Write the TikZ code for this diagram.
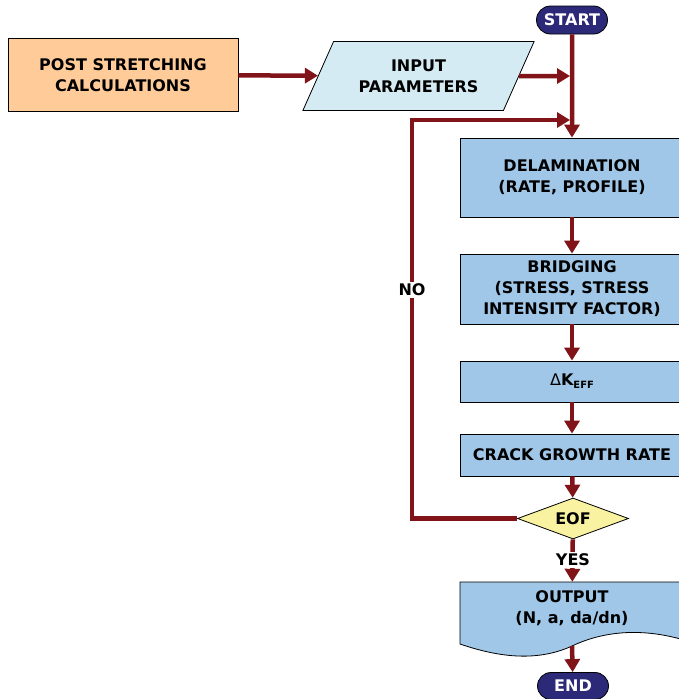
\documentclass[tikz,border=0pt]{standalone}
\usepackage{fontspec}
\setmainfont{DejaVu Sans}
\usetikzlibrary{positioning}
\usetikzlibrary{shapes.geometric}
\usetikzlibrary{shapes.misc}
\usetikzlibrary{arrows.meta}
\usetikzlibrary{backgrounds}
\definecolor{flowred}{RGB}{128,20,24}
\definecolor{boxblue}{RGB}{160,199,232}
\definecolor{inputblue}{RGB}{213,235,243}
\definecolor{postorange}{RGB}{255,204,153}
\definecolor{eofyellow}{RGB}{249,242,160}
\definecolor{pillnavy}{RGB}{44,42,120}
\tikzset{
	every node/.style = {font=\fontsize{16}{21}\selectfont\bfseries, align=center},
	box/.style = {rectangle, draw=black, line width=0.8pt, fill=boxblue, minimum width=224pt, inner sep=0pt},
	pill/.style = {rounded rectangle, draw=black, line width=0.8pt, fill=pillnavy, text=white, minimum width=71pt, inner sep=0pt},
	flow/.style = {line width=4.5pt, flowred, -{Triangle[length=13pt, width=15pt]}},
	tag/.style = {fill=white, inner sep=2pt}
}

\begin{document}
\begin{tikzpicture}[x=1pt, y=-1pt]
		\useasboundingbox (0,0) rectangle (678,699);
		% start and inputs
		\node[pill, minimum height=28pt] (start) at (572,20) {START};
		\node[rectangle, draw=black, line width=0.8pt, fill=postorange, minimum width=230pt, minimum height=73pt] (post) at (123,75) {POST STRETCHING\\CALCULATIONS};
		\node[trapezium, trapezium left angle=66, trapezium right angle=114, draw=black, line width=0.8pt, fill=inputblue, inner xsep=25pt, inner ysep=18pt] (input) at (418.5,76) {INPUT\\PARAMETERS};
		% process boxes
		\node[box, minimum height=79pt] (delam) at (572,177.5) {DELAMINATION\\(RATE, PROFILE)};
		\node[box, minimum height=70pt] (bridge) at (572,289) {BRIDGING\\(STRESS, STRESS\\INTENSITY FACTOR)};
		\node[box, minimum height=41pt] (dkeff) at (572,381.5) {{\mdseries Δ}K\raisebox{-3pt}{\fontsize{10}{10}\selectfont EFF}};
		\node[box, minimum height=42pt] (crack) at (572,455) {CRACK GROWTH RATE};
		\node[diamond, draw=black, line width=0.8pt, fill=eofyellow, aspect=2.7, minimum width=111pt, minimum height=41pt, inner sep=0pt] (eof) at (573,518.5) {EOF};
		% output sheet with wavy lower edge
		\node[minimum width=224pt, minimum height=52pt, inner sep=0pt] (output) at (572,608) {OUTPUT\\(N, a, da/dn)};
		\begin{scope}[on background layer]
			\draw[draw=black, line width=0.8pt, fill=boxblue] (460,582) -- (684,582) -- (684,640) .. controls (650,630) and (610,628) .. (572,646) .. controls (535,663) and (495,656) .. (460,644) -- cycle;
		\end{scope}
		\coordinate (outbase) at (572,646);
		\node[pill, minimum height=27pt] (end) at (573,686) {END};
		% joints on the trunk
		\coordinate (j1) at (572,76);
		\coordinate (j2) at (572,120);
		\coordinate (back) at (412,120);
		% connectors
		\draw[flow] (start) -- (delam);
		\draw[flow] (post) -- (input);
		\draw[flow, shorten >=2pt] (input) -- (j1);
		\draw[flow, shorten >=2pt] (eof.west) -| (back) -- (j2);
		\foreach \a/\b in {delam/bridge, bridge/dkeff, dkeff/crack, crack/eof}
			\draw[flow] (\a) -- (\b);
		\draw[flow] (eof) -- (output);
		\draw[flow] (outbase) -- (end);
		% branch labels
		\node[tag] (yes) at (573,560) {YES};
		\node[tag] (no) at (412,290) {NO};
	\end{tikzpicture}
\end{document}
